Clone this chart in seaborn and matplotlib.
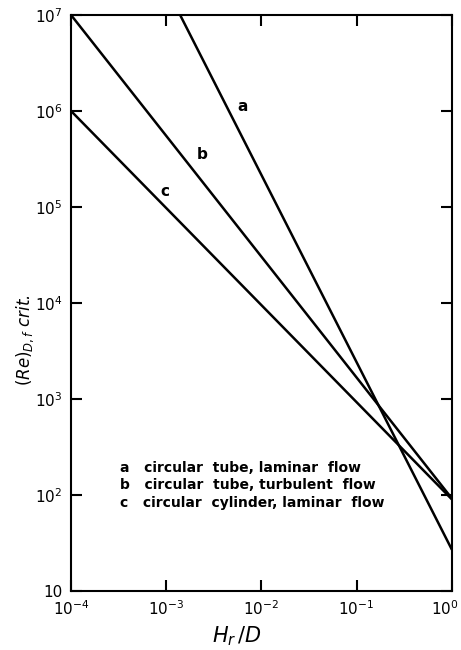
import matplotlib
matplotlib.use("Agg")
import matplotlib.pyplot as plt
import matplotlib.transforms as mtransforms
import seaborn as sns
import pandas as pd
from matplotlib.ticker import FixedLocator, NullLocator

# End points of each straight line on the log-log chart
curves = ["a", "b", "c"]
x_start = [1.4e-3, 1e-4, 1e-4]
y_start = [1e7, 1e7, 1e6]
x_end = [1.0, 1.0, 1.0]
y_end = [27.0, 92.0, 90.0]

legend_lines = [
    "a   circular  tube, laminar  flow",
    "b   circular  tube, turbulent  flow",
    "c   circular  cylinder, laminar  flow",
]

# Label positions next to each line (x, y in data units)
label_x = [5.6e-3, 2.1e-3, 8.6e-4]
label_y = [1.1e6, 3.5e5, 1.45e5]

xticks = [1e-4, 1e-3, 1e-2, 1e-1, 1e0]
xticklabels = [r"$10^{-4}$", r"$10^{-3}$", r"$10^{-2}$", r"$10^{-1}$", r"$10^{0}$"]
yticks = [1e1, 1e2, 1e3, 1e4, 1e5, 1e6, 1e7]
yticklabels = ["10", r"$10^{2}$", r"$10^{3}$", r"$10^{4}$", r"$10^{5}$", r"$10^{6}$", r"$10^{7}$"]

rows = []
for c, xs, ys, xe, ye in zip(curves, x_start, y_start, x_end, y_end):
    rows.append({"curve": c, "x": xs, "y": ys})
    rows.append({"curve": c, "x": xe, "y": ye})
df = pd.DataFrame(rows)

sns.set_theme(style="ticks")
plt.rcParams["font.family"] = ["DejaVu Sans"]
plt.rcParams["mathtext.default"] = "regular"
plt.rcParams["text.color"] = "black"

fig = plt.figure(figsize=(4.61, 6.5), dpi=100)
ax = fig.add_axes([0.154, 0.091, 0.826, 0.886])

sns.lineplot(data=df, x="x", y="y", units="curve", estimator=None,
             color="black", linewidth=1.8, ax=ax, legend=False)

ax.set_xscale("log")
ax.set_yscale("log")
ax.set_xlim(1e-4, 1e0)
ax.set_ylim(1e1, 1e7)

ax.xaxis.set_major_locator(FixedLocator(xticks))
ax.yaxis.set_major_locator(FixedLocator(yticks))
ax.xaxis.set_minor_locator(NullLocator())
ax.yaxis.set_minor_locator(NullLocator())
ax.set_xticklabels(xticklabels, fontsize=11)
ax.set_yticklabels(yticklabels, fontsize=11)
ax.tick_params(axis="both", which="major", direction="in", length=8, width=1.5,
               top=True, right=True, pad=6, colors="black")

# keep the last x tick label inside the figure
last = ax.get_xticklabels()[-1]
last.set_transform(last.get_transform() +
                   mtransforms.ScaledTranslation(-7 / 100, 0, fig.dpi_scale_trans))

for s in ax.spines.values():
    s.set_linewidth(1.5)
    s.set_color("black")
    s.set_visible(True)

ax.set_xlabel(r"$H_r\,/D$", fontsize=15, color="black")
ax.xaxis.set_label_coords(0.436, -0.058)
ax.set_ylabel(r"$(Re)_{D,f}$ crit.", fontsize=12, style="italic", color="black")
ax.yaxis.set_label_coords(-0.092, 0.436)
plt.rcParams["mathtext.default"] = "it"

for lab, lx, ly in zip(curves, label_x, label_y):
    ax.text(lx, ly, lab, fontsize=11, fontweight="bold", ha="left", va="center",
            color="black")

for i, line in enumerate(legend_lines):
    ax.text(0.13, 0.213 - i * 0.03, line, transform=ax.transAxes,
            fontsize=10, ha="left", va="center", fontweight="bold", color="black")

fig.savefig("out.png", dpi=100)
